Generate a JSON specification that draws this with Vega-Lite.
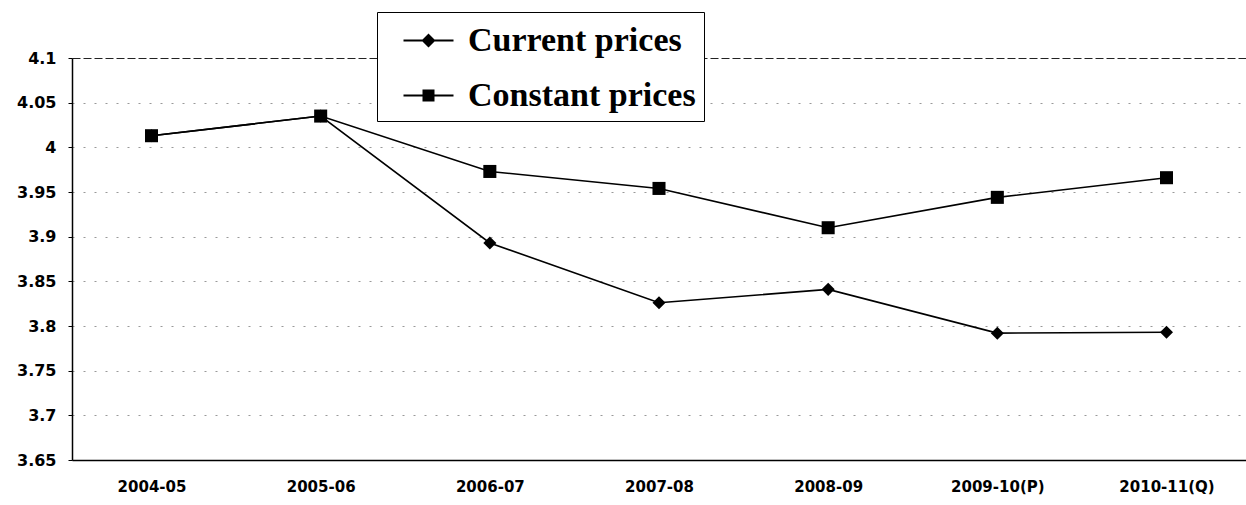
{
  "$schema": "https://vega.github.io/schema/vega-lite/v6.json",
  "width": 1174,
  "height": 402,
  "autosize": {"type": "none"},
  "padding": {"left": 72, "top": 58, "right": 0, "bottom": 45},
  "background": "white",
  "config": {"view": {"stroke": null}, "font": "DejaVu Sans"},
  "data": {
    "values": [
      {"year": "2004-05", "series": "Current prices", "value": 4.013},
      {"year": "2005-06", "series": "Current prices", "value": 4.035},
      {"year": "2006-07", "series": "Current prices", "value": 3.893},
      {"year": "2007-08", "series": "Current prices", "value": 3.826},
      {"year": "2008-09", "series": "Current prices", "value": 3.841},
      {"year": "2009-10(P)", "series": "Current prices", "value": 3.792},
      {"year": "2010-11(Q)", "series": "Current prices", "value": 3.793},
      {"year": "2004-05", "series": "Constant prices", "value": 4.013},
      {"year": "2005-06", "series": "Constant prices", "value": 4.035},
      {"year": "2006-07", "series": "Constant prices", "value": 3.973},
      {"year": "2007-08", "series": "Constant prices", "value": 3.954},
      {"year": "2008-09", "series": "Constant prices", "value": 3.910},
      {"year": "2009-10(P)", "series": "Constant prices", "value": 3.944},
      {"year": "2010-11(Q)", "series": "Constant prices", "value": 3.966}
    ]
  },
  "encoding": {
    "x": {
      "field": "year",
      "type": "ordinal",
      "sort": null,
      "scale": {"type": "point", "padding": 0.47},
      "axis": {
        "title": null,
        "labelAngle": 0,
        "labelFont": "DejaVu Sans",
        "labelFontWeight": "bold",
        "labelFontSize": 15,
        "labelColor": "black",
        "labelPadding": 19,
        "ticks": false,
        "domainColor": "black",
        "domainWidth": 1.5,
        "grid": false
      }
    },
    "y": {
      "field": "value",
      "type": "quantitative",
      "scale": {"domain": [3.65, 4.1], "zero": false, "nice": false},
      "axis": {
        "title": null,
        "values": [3.65, 3.7, 3.75, 3.8, 3.85, 3.9, 3.95, 4, 4.05, 4.1],
        "format": ".2~f",
        "labelFont": "DejaVu Sans",
        "labelFontWeight": "bold",
        "labelFontSize": 16,
        "labelColor": "black",
        "labelPadding": 12,
        "tickSize": 4,
        "tickColor": "black",
        "domainColor": "black",
        "domainWidth": 1.5,
        "grid": true,
        "gridColor": {"condition": {"test": "datum.value >= 4.09", "value": "#222"}, "value": "#999"},
        "gridDash": {"condition": {"test": "datum.value >= 4.09", "value": [8, 3]}, "value": [2, 9]},
        "gridWidth": 1
      }
    }
  },
  "layer": [
    {
      "mark": {"type": "line", "color": "black", "strokeWidth": 1.6},
      "encoding": {"detail": {"field": "series", "type": "nominal"}}
    },
    {
      "mark": {"type": "point", "filled": true, "color": "black", "opacity": 1, "size": 170},
      "encoding": {
        "shape": {
          "field": "series",
          "type": "nominal",
          "scale": {"domain": ["Current prices", "Constant prices"], "range": ["diamond", "square"]},
          "legend": null
        }
      }
    },
    {
      "transform": [{"filter": "datum.value > 100"}],
      "mark": {"type": "point", "filled": true, "color": "black", "opacity": 1},
      "encoding": {
        "shape": {
          "field": "series",
          "type": "nominal",
          "scale": {
            "domain": ["Current prices", "Constant prices"],
            "range": [
              "M-1.25,-0.05H1.25V0.05H-1.25Z M0,-0.35L0.35,0L0,0.35L-0.35,0Z",
              "M-1.25,-0.05H1.25V0.05H-1.25Z M-0.3,-0.3H0.3V0.3H-0.3Z"
            ]
          },
          "legend": {
            "title": null,
            "orient": "none",
            "legendX": 305,
            "legendY": -46,
            "symbolSize": 1600,
            "symbolFillColor": "black",
            "symbolStrokeColor": "black",
            "symbolStrokeWidth": 0.5,
            "symbolOffset": 23,
            "labelFont": "Liberation Serif",
            "labelFontWeight": "bold",
            "labelFontSize": 34,
            "labelColor": "black",
            "labelOffset": 19,
            "labelLimit": 400,
            "rowPadding": 17,
            "padding": 8,
            "fillColor": "white",
            "strokeColor": "black",
            "cornerRadius": 0,
            "encode": {"legend": {"update": {"strokeDash": {"value": [4, 3]}}}}
          }
        }
      }
    }
  ],
  "resolve": {"scale": {"shape": "independent"}, "legend": {"shape": "independent"}}
}
